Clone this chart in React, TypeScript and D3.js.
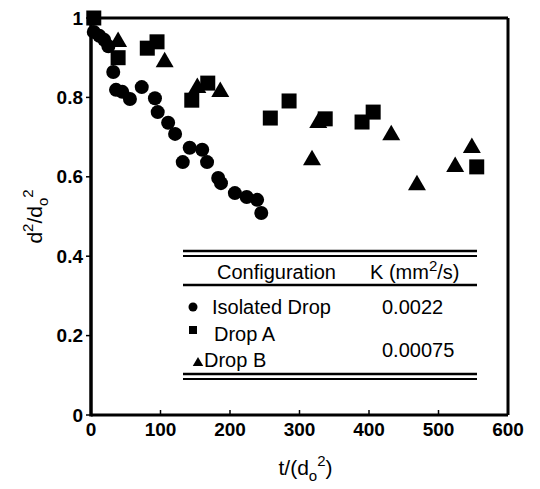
import React from 'react';
import * as d3 from 'd3';

// values (t/do^2 , d^2/do^2)
const isolatedT = [4, 12, 19, 25, 32, 36, 45, 56, 73, 92, 96, 111, 121, 142, 160, 132, 167, 183, 187, 207, 224, 239, 245];
const isolatedD = [0.965, 0.955, 0.945, 0.929, 0.864, 0.819, 0.814, 0.796, 0.826, 0.798, 0.763, 0.736, 0.708, 0.673, 0.668, 0.637, 0.637, 0.597, 0.584, 0.559, 0.549, 0.542, 0.509];
const dropAT = [4, 39, 81, 95, 145, 168, 258, 285, 337, 390, 406, 555];
const dropAD = [1.0, 0.9, 0.924, 0.94, 0.793, 0.836, 0.748, 0.791, 0.746, 0.738, 0.763, 0.625];
const dropBT = [39, 106, 153, 186, 318, 327, 432, 469, 524, 548];
const dropBD = [0.94, 0.889, 0.824, 0.814, 0.642, 0.736, 0.705, 0.579, 0.625, 0.673];

const xTicks = [0, 100, 200, 300, 400, 500, 600];
const yTicks = [0, 0.2, 0.4, 0.6, 0.8, 1];
const yTickLabels = ['0', '0.2', '0.4', '0.6', '0.8', '1'];

const configNames = ['Isolated Drop', 'Drop A', 'Drop B'];
const kValues = ['0.0022', '0.00075'];

const W = 540;
const H = 489;
const FONT = '"Liberation Sans", Arial, Helvetica, sans-serif';

const App = () => {
    const x = d3.scaleLinear().domain([0, 600]).range([91, 508]);
    const y = d3.scaleLinear().domain([0, 1]).range([415, 18]);

    const tri = d3.symbol(d3.symbolTriangle, 140)();
    const triSmall = d3.symbol(d3.symbolTriangle, 48)();

    const left = x(0), right = x(600), top = y(1), bottom = y(0);

    return (
        <svg width={W} height={H} style={{position: 'absolute', left: 0, top: 0, background: '#fff'}}
             fontFamily={FONT}>
            <rect width={W} height={H} fill="#fff"/>

            {/* frame */}
            <line x1={left} x2={right} y1={top} y2={top} stroke="#000" strokeWidth={3}/>
            <line x1={right} x2={right} y1={top} y2={bottom} stroke="#000" strokeWidth={3}/>
            <line x1={left} x2={right} y1={bottom} y2={bottom} stroke="#000" strokeWidth={3}/>
            <line x1={left} x2={left} y1={top - 1.5} y2={bottom + 1.5} stroke="#000" strokeWidth={3.5}/>

            {/* y axis */}
            {yTicks.map((t, i) => (
                <g key={'y' + i}>
                    <line x1={left - 5} x2={left} y1={y(t)} y2={y(t)} stroke="#000" strokeWidth={1.5}/>
                    <text x={left - 8} y={y(t)} dy="0.35em" textAnchor="end" fontSize={19}
                          fontWeight="bold">{yTickLabels[i]}</text>
                </g>
            ))}

            {/* x axis */}
            {xTicks.map((t, i) => (
                <g key={'x' + i}>
                    <line x1={x(t)} x2={x(t)} y1={bottom} y2={bottom - 5} stroke="#000" strokeWidth={1.5}/>
                    <text x={x(t)} y={bottom + 21} textAnchor="middle" fontSize={19}
                          fontWeight="bold">{t}</text>
                </g>
            ))}

            {/* axis titles */}
            <text x={(left + right) / 2 + 6} y={475} textAnchor="middle" fontSize={21}>
                <tspan>t/(d</tspan>
                <tspan fontSize={15} dy={6}>o</tspan>
                <tspan fontSize={15} dy={-15}>2</tspan>
                <tspan dy={9}>)</tspan>
            </text>
            <text transform={`translate(42,${(top + bottom) / 2}) rotate(-90)`} textAnchor="middle" fontSize={21}>
                <tspan>d</tspan>
                <tspan fontSize={15} dy={-9}>2</tspan>
                <tspan dy={9}>/d</tspan>
                <tspan fontSize={15} dy={6}>o</tspan>
                <tspan fontSize={15} dy={-15}>2</tspan>
            </text>

            {/* data */}
            {isolatedT.map((t, i) => (
                <circle key={'c' + i} cx={x(t)} cy={y(isolatedD[i])} r={7} fill="#000"/>
            ))}
            {dropAT.map((t, i) => (
                <rect key={'s' + i} x={x(t) - 7.5} y={y(dropAD[i]) - 7.5} width={15} height={15} fill="#000"/>
            ))}
            {dropBT.map((t, i) => (
                <path key={'t' + i} d={tri} transform={`translate(${x(t)},${y(dropBD[i])})`} fill="#000"/>
            ))}

            {/* table legend */}
            <g fontSize={20}>
                <line x1={183} x2={477} y1={251} y2={251} stroke="#000" strokeWidth={2.5}/>
                <line x1={183} x2={477} y1={256} y2={256} stroke="#000" strokeWidth={2}/>
                <line x1={183} x2={477} y1={285} y2={285} stroke="#000" strokeWidth={2.5}/>
                <line x1={183} x2={477} y1={374} y2={374} stroke="#000" strokeWidth={2.5}/>
                <line x1={183} x2={477} y1={379} y2={379} stroke="#000" strokeWidth={2}/>

                <text x={217} y={279}>Configuration</text>
                <text x={370} y={279}>
                    <tspan>K (mm</tspan>
                    <tspan fontSize={15} dy={-8}>2</tspan>
                    <tspan dy={8}>/s)</tspan>
                </text>

                <circle cx={193} cy={307} r={4.5} fill="#000"/>
                <text x={212} y={314}>{configNames[0]}</text>
                <text x={382} y={314}>{kValues[0]}</text>

                <rect x={189} y={326} width={8} height={8} fill="#000"/>
                <text x={214} y={341}>{configNames[1]}</text>

                <path d={triSmall} transform="translate(198,363)" fill="#000"/>
                <text x={204} y={367}>{configNames[2]}</text>
                <text x={382} y={357}>{kValues[1]}</text>
            </g>
        </svg>
    );
};

export default App;
